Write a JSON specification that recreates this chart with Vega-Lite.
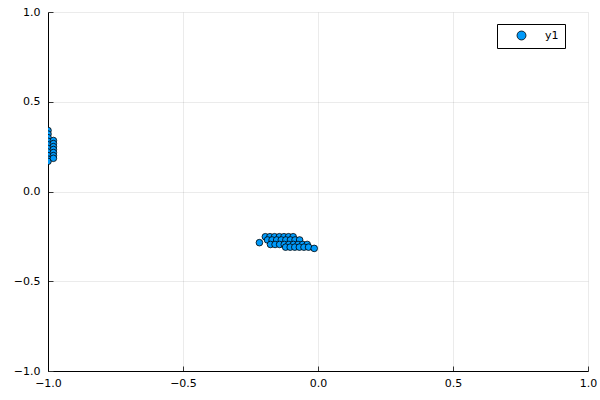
{
  "$schema": "https://vega.github.io/schema/vega-lite/v6.json",
  "description": "Scatter of two point clusters, one at the left edge and one below the centre.",
  "autosize": {"type": "none"},
  "width": 540,
  "height": 359,
  "padding": {"left": 48, "top": 12, "right": 12, "bottom": 29},
  "background": "white",
  "config": {
    "view": {"stroke": null},
    "font": "DejaVu Sans",
    "axis": {
      "domainColor": "black",
      "domainWidth": 1,
      "gridColor": "#000000",
      "gridOpacity": 0.08,
      "gridWidth": 1,
      "tickColor": "#333333",
      "tickSize": -5,
      "labelFontSize": 11,
      "labelColor": "black",
      "labelFont": "DejaVu Sans"
    }
  },
  "data": {
    "values": [
      {"x": -1, "y": 0.34, "series": "y1"},
      {"x": -1, "y": 0.32, "series": "y1"},
      {"x": -1, "y": 0.3, "series": "y1"},
      {"x": -1, "y": 0.28, "series": "y1"},
      {"x": -1, "y": 0.26, "series": "y1"},
      {"x": -1, "y": 0.24, "series": "y1"},
      {"x": -1, "y": 0.22, "series": "y1"},
      {"x": -1, "y": 0.2, "series": "y1"},
      {"x": -1, "y": 0.18, "series": "y1"},
      {"x": -1, "y": 0.168, "series": "y1"},
      {"x": -0.98, "y": 0.284, "series": "y1"},
      {"x": -0.98, "y": 0.267, "series": "y1"},
      {"x": -0.98, "y": 0.25, "series": "y1"},
      {"x": -0.98, "y": 0.234, "series": "y1"},
      {"x": -0.98, "y": 0.217, "series": "y1"},
      {"x": -0.98, "y": 0.2, "series": "y1"},
      {"x": -0.98, "y": 0.185, "series": "y1"},
      {"x": -0.217, "y": -0.285, "series": "y1"},
      {"x": -0.195, "y": -0.252, "series": "y1"},
      {"x": -0.178, "y": -0.252, "series": "y1"},
      {"x": -0.161, "y": -0.252, "series": "y1"},
      {"x": -0.143, "y": -0.252, "series": "y1"},
      {"x": -0.126, "y": -0.252, "series": "y1"},
      {"x": -0.109, "y": -0.252, "series": "y1"},
      {"x": -0.092, "y": -0.252, "series": "y1"},
      {"x": -0.187, "y": -0.27, "series": "y1"},
      {"x": -0.17, "y": -0.27, "series": "y1"},
      {"x": -0.153, "y": -0.27, "series": "y1"},
      {"x": -0.136, "y": -0.27, "series": "y1"},
      {"x": -0.119, "y": -0.27, "series": "y1"},
      {"x": -0.102, "y": -0.27, "series": "y1"},
      {"x": -0.085, "y": -0.27, "series": "y1"},
      {"x": -0.068, "y": -0.27, "series": "y1"},
      {"x": -0.176, "y": -0.295, "series": "y1"},
      {"x": -0.159, "y": -0.295, "series": "y1"},
      {"x": -0.142, "y": -0.295, "series": "y1"},
      {"x": -0.125, "y": -0.295, "series": "y1"},
      {"x": -0.108, "y": -0.295, "series": "y1"},
      {"x": -0.091, "y": -0.295, "series": "y1"},
      {"x": -0.074, "y": -0.295, "series": "y1"},
      {"x": -0.057, "y": -0.295, "series": "y1"},
      {"x": -0.04, "y": -0.295, "series": "y1"},
      {"x": -0.12, "y": -0.31, "series": "y1"},
      {"x": -0.103, "y": -0.31, "series": "y1"},
      {"x": -0.086, "y": -0.31, "series": "y1"},
      {"x": -0.069, "y": -0.31, "series": "y1"},
      {"x": -0.052, "y": -0.31, "series": "y1"},
      {"x": -0.035, "y": -0.31, "series": "y1"},
      {"x": -0.014, "y": -0.317, "series": "y1"}
    ]
  },
  "mark": {
    "type": "point",
    "shape": "circle",
    "filled": true,
    "size": 44,
    "opacity": 1,
    "stroke": "black",
    "strokeWidth": 0.8,
    "clip": true
  },
  "encoding": {
    "x": {
      "field": "x",
      "type": "quantitative",
      "scale": {"domain": [-1, 1], "nice": false, "zero": false},
      "axis": {
        "title": null,
        "values": [-1, -0.5, 0, 0.5, 1],
        "format": ".1f",
        "labelPadding": 11,
        "labelFlush": false
      }
    },
    "y": {
      "field": "y",
      "type": "quantitative",
      "scale": {"domain": [-1, 1], "nice": false, "zero": false},
      "axis": {
        "title": null,
        "values": [-1, -0.5, 0, 0.5, 1],
        "format": ".1f",
        "labelPadding": 13,
        "labelFlush": false
      }
    },
    "color": {
      "field": "series",
      "type": "nominal",
      "scale": {"domain": ["y1"], "range": ["#009AFA"]},
      "legend": {
        "title": null,
        "orient": "none",
        "legendX": 449,
        "legendY": 12,
        "strokeColor": "black",
        "fillColor": "white",
        "padding": 6,
        "symbolSize": 80,
        "symbolStrokeColor": "black",
        "symbolStrokeWidth": 0.8,
        "labelFontSize": 11,
        "labelOffset": 18,
        "labelFont": "DejaVu Sans",
        "labelColor": "black",
        "labelExpr": "datum.label + '\u00a0\u00a0\u00a0'",
        "rowPadding": 0,
        "symbolOffset": 13,
        "labelLimit": 100
      }
    }
  }
}
